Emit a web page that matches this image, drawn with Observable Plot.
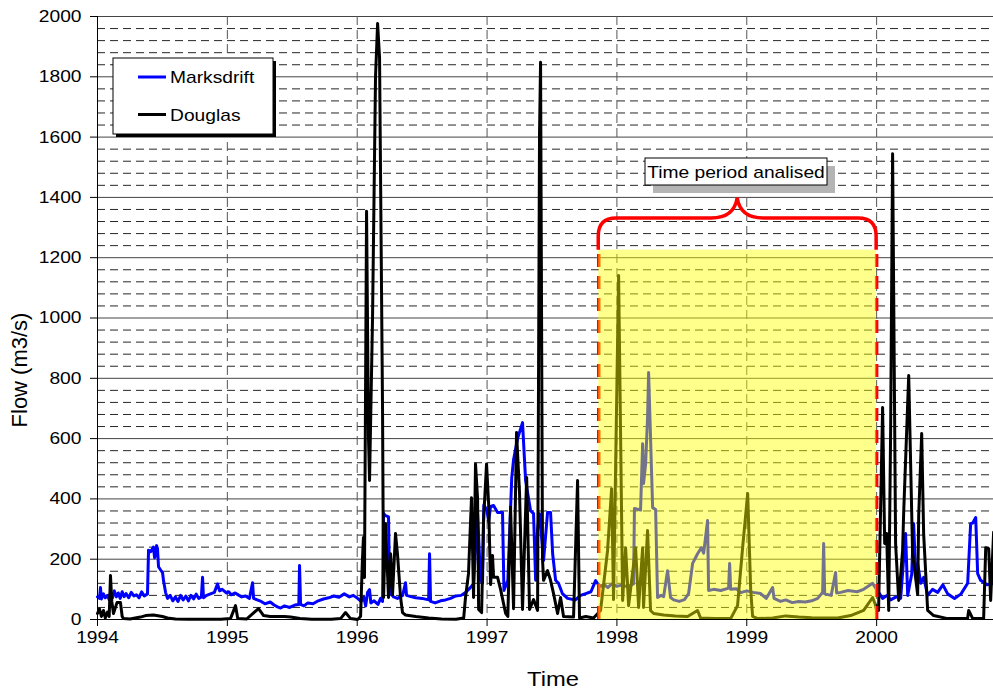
<!DOCTYPE html>
<html><head><meta charset="utf-8">
<script src="https://cdn.jsdelivr.net/npm/d3@7"></script>
<script src="https://cdn.jsdelivr.net/npm/@observablehq/plot@0.6"></script>
<style>body{margin:0;background:#fff;} #chart{width:993px;height:689px;}</style>
</head><body><div id="chart"></div>
<script>
// ---- data (decimal year, flow m3/s) ----
const marksdrift = [[1994.000,75],[1994.015,70],[1994.023,106],[1994.030,68],[1994.046,85],[1994.060,72],[1994.077,80],[1994.090,66],[1994.100,90],[1994.115,72],[1994.130,95],[1994.145,75],[1994.160,88],[1994.175,70],[1994.190,92],[1994.205,76],[1994.220,86],[1994.240,72],[1994.260,90],[1994.280,78],[1994.300,82],[1994.320,72],[1994.340,92],[1994.360,78],[1994.385,85],[1994.393,230],[1994.410,225],[1994.430,240],[1994.440,205],[1994.455,245],[1994.462,235],[1994.470,175],[1994.485,165],[1994.501,155],[1994.508,130],[1994.524,90],[1994.539,70],[1994.560,80],[1994.580,62],[1994.600,75],[1994.620,60],[1994.640,80],[1994.660,65],[1994.680,78],[1994.700,62],[1994.720,80],[1994.740,68],[1994.760,84],[1994.780,70],[1994.800,75],[1994.809,140],[1994.816,72],[1994.840,80],[1994.870,85],[1994.900,90],[1994.924,118],[1994.940,95],[1994.960,100],[1994.994,88],[1995.010,92],[1995.030,82],[1995.060,88],[1995.090,80],[1995.110,75],[1995.140,78],[1995.170,70],[1995.194,122],[1995.202,70],[1995.230,65],[1995.260,60],[1995.290,52],[1995.330,58],[1995.360,48],[1995.386,42],[1995.410,38],[1995.440,45],[1995.480,40],[1995.520,48],[1995.550,50],[1995.556,179],[1995.564,50],[1995.590,45],[1995.620,55],[1995.660,52],[1995.700,62],[1995.740,68],[1995.780,72],[1995.820,78],[1995.860,74],[1995.900,85],[1995.940,75],[1995.970,80],[1996.003,70],[1996.030,60],[1996.050,75],[1996.065,45],[1996.080,90],[1996.095,99],[1996.105,55],[1996.130,62],[1996.160,50],[1996.180,70],[1996.195,60],[1996.203,352],[1996.215,345],[1996.241,340],[1996.250,100],[1996.257,86],[1996.280,75],[1996.310,70],[1996.350,80],[1996.372,122],[1996.380,80],[1996.420,75],[1996.450,72],[1996.500,70],[1996.550,65],[1996.557,218],[1996.565,60],[1996.600,55],[1996.642,62],[1996.680,65],[1996.719,70],[1996.760,78],[1996.800,80],[1996.834,90],[1996.870,105],[1996.896,119],[1996.927,351],[1996.950,130],[1996.965,120],[1996.975,380],[1997.000,360],[1997.012,325],[1997.027,375],[1997.050,378],[1997.081,355],[1997.119,355],[1997.130,96],[1997.160,130],[1997.190,470],[1997.204,530],[1997.235,600],[1997.273,653],[1997.297,460],[1997.335,361],[1997.358,351],[1997.374,130],[1997.389,300],[1997.404,351],[1997.435,196],[1997.466,355],[1997.489,355],[1997.505,218],[1997.528,130],[1997.550,120],[1997.580,86],[1997.620,70],[1997.680,65],[1997.720,80],[1997.760,86],[1997.800,92],[1997.836,129],[1997.851,120],[1997.874,110],[1997.900,116],[1997.930,106],[1997.960,118],[1998.000,110],[1998.040,115],[1998.080,108],[1998.128,118],[1998.135,368],[1998.182,363],[1998.198,583],[1998.205,451],[1998.221,516],[1998.236,671],[1998.244,819],[1998.275,371],[1998.298,365],[1998.313,73],[1998.340,80],[1998.360,76],[1998.390,162],[1998.413,73],[1998.437,65],[1998.480,60],[1998.520,66],[1998.552,86],[1998.583,186],[1998.621,218],[1998.650,238],[1998.668,220],[1998.698,328],[1998.706,96],[1998.745,100],[1998.800,96],[1998.860,104],[1998.868,186],[1998.876,100],[1998.920,102],[1998.953,89],[1999.000,95],[1999.050,90],[1999.107,86],[1999.150,70],[1999.199,106],[1999.210,70],[1999.260,60],[1999.300,65],[1999.350,56],[1999.400,60],[1999.450,58],[1999.500,62],[1999.546,70],[1999.584,90],[1999.592,252],[1999.600,85],[1999.650,80],[1999.684,156],[1999.692,88],[1999.723,90],[1999.780,96],[1999.850,92],[1999.900,100],[1999.969,120],[2000.000,100],[2000.015,90],[2000.046,70],[2000.080,80],[2000.108,65],[2000.150,75],[2000.185,70],[2000.223,285],[2000.239,80],[2000.270,150],[2000.285,318],[2000.300,160],[2000.316,186],[2000.340,120],[2000.362,140],[2000.393,80],[2000.430,100],[2000.470,90],[2000.510,115],[2000.547,85],[2000.600,70],[2000.650,85],[2000.701,120],[2000.724,318],[2000.740,320],[2000.763,338],[2000.778,152],[2000.801,130],[2000.850,115],[2000.901,120]];
const douglas = [[1994.000,20],[1994.015,35],[1994.030,10],[1994.046,30],[1994.060,5],[1994.077,25],[1994.090,10],[1994.100,146],[1994.110,60],[1994.123,20],[1994.150,56],[1994.177,56],[1994.190,10],[1994.200,3],[1994.250,2],[1994.331,8],[1994.370,13],[1994.430,15],[1994.500,10],[1994.539,5],[1994.600,2],[1994.700,1],[1994.800,1],[1994.950,1],[1995.024,3],[1995.063,46],[1995.080,3],[1995.150,2],[1995.240,36],[1995.279,13],[1995.330,10],[1995.440,10],[1995.487,8],[1995.560,3],[1995.650,1],[1995.800,1],[1995.872,3],[1995.910,23],[1995.949,3],[1996.003,0],[1996.026,10],[1996.040,196],[1996.048,272],[1996.056,139],[1996.072,1354],[1996.087,600],[1996.095,461],[1996.118,1000],[1996.141,1800],[1996.157,1977],[1996.172,1864],[1996.195,700],[1996.203,73],[1996.218,318],[1996.241,73],[1996.257,218],[1996.272,83],[1996.295,285],[1996.310,218],[1996.334,73],[1996.349,23],[1996.372,15],[1996.450,10],[1996.550,5],[1996.650,2],[1996.760,1],[1996.820,5],[1996.834,73],[1996.857,152],[1996.880,404],[1996.896,73],[1996.911,516],[1996.927,400],[1996.935,33],[1996.958,23],[1996.973,328],[1996.996,516],[1997.012,383],[1997.027,116],[1997.042,212],[1997.050,140],[1997.081,140],[1997.104,100],[1997.143,20],[1997.160,10],[1997.181,372],[1997.204,36],[1997.227,620],[1997.250,420],[1997.273,33],[1997.305,471],[1997.327,33],[1997.358,66],[1997.389,30],[1997.404,1612],[1997.412,1848],[1997.427,200],[1997.435,130],[1997.466,162],[1997.489,130],[1997.512,86],[1997.543,20],[1997.566,73],[1997.589,10],[1997.666,8],[1997.697,461],[1997.712,5],[1997.760,10],[1997.820,5],[1997.874,30],[1997.928,229],[1997.959,434],[1997.974,66],[1998.013,1141],[1998.044,63],[1998.067,238],[1998.090,46],[1998.144,238],[1998.167,40],[1998.198,238],[1998.205,40],[1998.236,295],[1998.259,30],[1998.283,20],[1998.360,15],[1998.450,12],[1998.544,10],[1998.621,30],[1998.644,5],[1998.750,3],[1998.876,3],[1998.929,46],[1998.968,238],[1999.007,418],[1999.030,100],[1999.045,10],[1999.084,3],[1999.200,5],[1999.300,12],[1999.400,8],[1999.500,6],[1999.600,5],[1999.700,5],[1999.800,13],[1999.900,30],[1999.969,73],[1999.990,50],[2000.000,30],[2000.015,30],[2000.046,703],[2000.062,252],[2000.077,285],[2000.093,30],[2000.108,633],[2000.123,1545],[2000.146,252],[2000.170,63],[2000.200,229],[2000.208,351],[2000.247,809],[2000.277,219],[2000.316,83],[2000.324,345],[2000.347,617],[2000.362,285],[2000.393,30],[2000.439,13],[2000.547,3],[2000.700,3],[2000.709,30],[2000.740,3],[2000.824,3],[2000.840,238],[2000.863,235],[2000.878,63],[2000.901,290]];

const seriesNames = ["Marksdrift", "Douglas"];
const seriesColors = ["#0000ff", "#000000"];
const yearTicks = [1994, 1995, 1996, 1997, 1998, 1999, 2000];
const flowTicks = [0, 200, 400, 600, 800, 1000, 1200, 1400, 1600, 1800, 2000];
const minorFlowTicks = [40, 80, 120, 160, 240, 280, 320, 360, 440, 480, 520, 560, 640, 680, 720, 760, 840, 880, 920, 960, 1040, 1080, 1120, 1160, 1240, 1280, 1320, 1360, 1440, 1480, 1520, 1560, 1640, 1680, 1720, 1760, 1840, 1880, 1920, 1960];
const period = {start: 1997.86, end: 2000.0, top: 1225, braceLevel: 1330, braceTip: 1397};
const annotationText = "Time period analised";
const xLabel = "Time", yLabel = "Flow (m3/s)";

const rows = [
  ...marksdrift.map(([t, q]) => ({t, q, s: seriesNames[0]})),
  ...douglas.map(([t, q]) => ({t, q, s: seriesNames[1]}))
];

const font = "Liberation Sans, Arial, sans-serif";
const plot = Plot.plot({
  width: 993, height: 689,
  marginLeft: 97, marginRight: 0, marginTop: 16, marginBottom: 70,
  x: {type: "linear", domain: [1994, 2000.9]},
  y: {domain: [0, 2000]},
  style: {fontFamily: font, fontSize: "17px", color: "#000", background: "#fff", overflow: "visible"},
  marks: [
    Plot.ruleY(minorFlowTicks, {stroke: "#000", strokeWidth: 1, strokeDasharray: "8,5", strokeOpacity: 0.85}),
    Plot.ruleY(flowTicks, {stroke: "#444", strokeWidth: 1}),
    Plot.ruleX(yearTicks.slice(1), {stroke: "#555", strokeWidth: 1, strokeDasharray: "9,5"}),
    Plot.line(rows.filter(d => d.s === seriesNames[0]), {x: "t", y: "q", stroke: seriesColors[0], strokeWidth: 3}),
    Plot.line(rows.filter(d => d.s === seriesNames[1]), {x: "t", y: "q", stroke: seriesColors[1], strokeWidth: 3}),
    Plot.ruleX([period.start, period.end], {x: d => d, y1: () => 0, y2: () => period.top, stroke: "#ff0000", strokeWidth: 3.5, strokeDasharray: "13,9"}),
    Plot.rect([period], {x1: "start", x2: "end", y1: () => 0, y2: "top", fill: "#ffff00", fillOpacity: 0.45}),
    Plot.ruleX([1994], {stroke: "#000", strokeWidth: 1}),
    Plot.ruleY([0], {stroke: "#000", strokeWidth: 1}),
    Plot.axisX({ticks: yearTicks, tickFormat: d => String(d), tickSize: 7, tickPadding: 4, label: null, fontSize: 17}),
    Plot.axisY({ticks: flowTicks, tickFormat: d => String(d), tickSize: 7, tickPadding: 9, label: null, fontSize: 17})
  ]
});

const svg = d3.select(plot);
const sx = plot.scale("x"), sy = plot.scale("y");
const xL = sx.apply(period.start), xR = sx.apply(period.end), xC = (xL + xR) / 2;
const yB = sy.apply(period.top), yL = sy.apply(period.braceLevel), yT = sy.apply(period.braceTip);
const r = 18;
const brace = `M${xL},${yB} L${xL},${yL + r} Q${xL},${yL} ${xL + r},${yL} L${xC - 26},${yL} Q${xC - 3},${yL} ${xC},${yT} Q${xC + 3},${yL} ${xC + 26},${yL} L${xR - r},${yL} Q${xR},${yL} ${xR},${yL + r} L${xR},${yB}`;
svg.append("path").attr("d", brace).attr("fill", "none").attr("stroke", "#ff0000").attr("stroke-width", 3.5);

// annotation box
const bx = 645, by = 158, bw = 182, bh = 27;
svg.append("rect").attr("x", bx + 8).attr("y", by + 8).attr("width", bw).attr("height", bh).attr("fill", "#b4b4b4");
svg.append("rect").attr("x", bx).attr("y", by).attr("width", bw).attr("height", bh).attr("fill", "#fff").attr("stroke", "#000").attr("stroke-width", 1);
svg.append("text").attr("class", "stretch").attr("x", bx + bw / 2).attr("y", by + 20).attr("text-anchor", "middle").attr("font-family", font).attr("font-size", 17).text(annotationText);

// legend
const lx = 113, ly = 58, lw = 160, lh = 76;
svg.append("rect").attr("x", lx + 3).attr("y", ly + 3).attr("width", lw).attr("height", lh).attr("fill", "#000");
svg.append("rect").attr("x", lx).attr("y", ly).attr("width", lw).attr("height", lh).attr("fill", "#fff").attr("stroke", "#000").attr("stroke-width", 1);
seriesNames.forEach((name, i) => {
  const yy = 77 + i * 37.5;
  svg.append("line").attr("x1", 138).attr("x2", 166).attr("y1", yy).attr("y2", yy).attr("stroke", seriesColors[i]).attr("stroke-width", 3);
  svg.append("text").attr("class", "stretch").attr("x", 170).attr("y", yy + 6).attr("text-anchor", "start").attr("font-family", font).attr("font-size", 17).text(name);
});

// axis titles
svg.append("text").attr("class", "stretch").attr("x", 553).attr("y", 686).attr("text-anchor", "middle").attr("font-family", font).attr("font-size", 21).text(xLabel);
svg.append("text").attr("transform", "translate(27,370) rotate(-90)").attr("text-anchor", "middle").attr("font-family", font).attr("font-size", 22).text(yLabel);

document.getElementById("chart").appendChild(plot);

// the reference's glyphs are slightly wider than Liberation Sans: widen horizontal texts
svg.selectAll("g[aria-label$='tick label'] text, text.stretch").each(function() {
  const len = this.getComputedTextLength();
  if (len > 0) {
    this.setAttribute("textLength", (len * 1.13).toFixed(1));
    this.setAttribute("lengthAdjust", "spacingAndGlyphs");
  }
});
</script></body></html>
